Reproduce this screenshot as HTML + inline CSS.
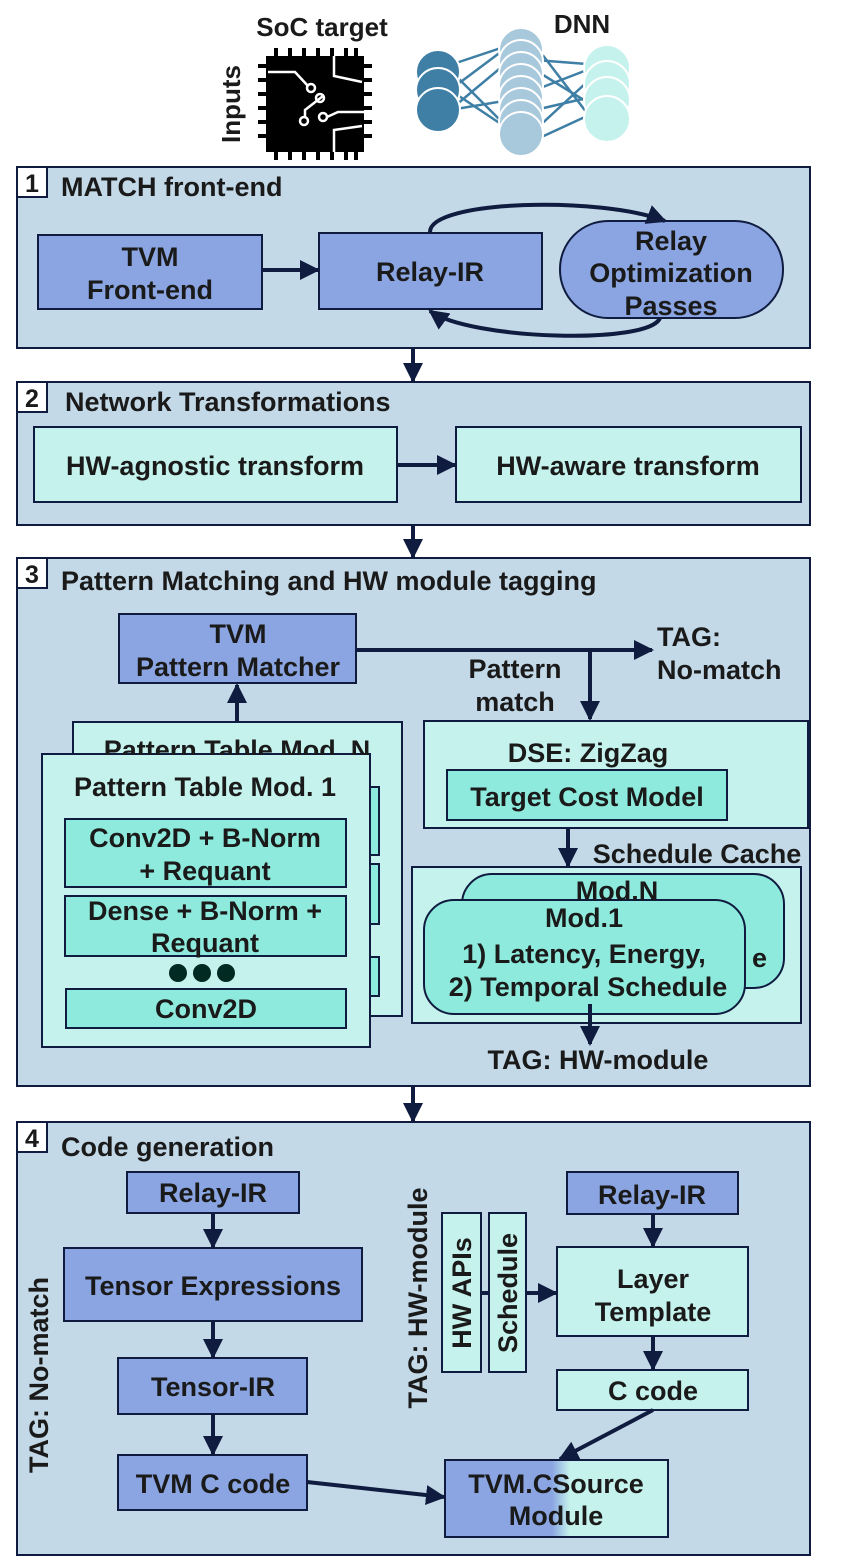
<!DOCTYPE html>
<html><head><meta charset="utf-8"><style>
html,body{margin:0;padding:0;background:#fff}
svg{display:block}
text{font-family:"Liberation Sans",Arial,sans-serif;font-weight:bold;fill:#1a1a1a}
</style></head><body>
<svg width="848" height="1558" viewBox="0 0 848 1558" xmlns="http://www.w3.org/2000/svg">
<defs>
<marker id="ah" viewBox="0 0 10 10" refX="9" refY="5" markerWidth="5" markerHeight="5" orient="auto-start-reverse"><path d="M0,0 L10,5 L0,10 z" fill="#0f1b3f"/></marker>
<linearGradient id="gr" x1="0" x2="1" y1="0" y2="0"><stop offset="0.48" stop-color="#8aa5e2"/><stop offset="0.56" stop-color="#c5f2ec"/></linearGradient>
</defs>
<text x="322" y="36" font-size="26" text-anchor="middle">SoC target</text>
<text x="582" y="33" font-size="26" text-anchor="middle">DNN</text>
<text transform="translate(240,104) rotate(-90)" font-size="26" text-anchor="middle">Inputs</text>
<!-- chip -->
<g fill="#000">
<g stroke="#000" stroke-width="4">
<line x1="276" y1="48" x2="276" y2="160"/><line x1="290" y1="48" x2="290" y2="160"/><line x1="304" y1="48" x2="304" y2="160"/><line x1="318" y1="48" x2="318" y2="160"/><line x1="332" y1="48" x2="332" y2="160"/><line x1="346" y1="48" x2="346" y2="160"/><line x1="356" y1="48" x2="356" y2="160"/>
<line x1="258" y1="66" x2="372" y2="66"/><line x1="258" y1="80" x2="372" y2="80"/><line x1="258" y1="94" x2="372" y2="94"/><line x1="258" y1="108" x2="372" y2="108"/><line x1="258" y1="122" x2="372" y2="122"/><line x1="258" y1="136" x2="372" y2="136"/>
</g>
<rect x="266" y="56" width="98" height="96"/>
</g>
<g stroke="#fff" stroke-width="2.5" fill="none">
<path d="M268,72 L295,72 L308,86"/><circle cx="311" cy="88" r="4"/>
<path d="M334,56 L334,76 L362,82"/><path d="M323,96 L305,110 L305,118"/><circle cx="320" cy="98" r="4"/>
<circle cx="304" cy="121" r="4"/><circle cx="323" cy="117" r="4"/><path d="M327,117 L338,112 L364,112"/><path d="M334,152 L334,130 L362,126"/>
</g>
<!-- DNN -->
<g stroke="#3f7fa6" stroke-width="2.5">
<line x1="450" y1="65" x2="510" y2="45"/><line x1="450" y1="70" x2="510" y2="130"/><line x1="450" y1="90" x2="510" y2="45"/><line x1="450" y1="110" x2="510" y2="60"/><line x1="450" y1="90" x2="510" y2="130"/><line x1="450" y1="110" x2="510" y2="100"/>
<line x1="535" y1="45" x2="600" y2="130"/><line x1="535" y1="60" x2="600" y2="65"/><line x1="535" y1="90" x2="600" y2="65"/><line x1="535" y1="130" x2="600" y2="70"/><line x1="535" y1="110" x2="600" y2="95"/><line x1="535" y1="70" x2="600" y2="110"/><line x1="535" y1="140" x2="600" y2="110"/>
</g>
<g fill="#3f7fa6" stroke="#fff" stroke-width="2"><circle cx="438" cy="72" r="22"/><circle cx="438" cy="90" r="22"/><circle cx="438" cy="110" r="22"/></g>
<g fill="#a8c8dc" stroke="#fff" stroke-width="2"><circle cx="521" cy="50" r="22"/><circle cx="521" cy="62" r="22"/><circle cx="521" cy="74" r="22"/><circle cx="521" cy="86" r="22"/><circle cx="521" cy="98" r="22"/><circle cx="521" cy="110" r="22"/><circle cx="521" cy="122" r="22"/><circle cx="521" cy="134" r="22"/></g>
<g fill="#c5f2ec" stroke="#fff" stroke-width="2"><circle cx="607" cy="68" r="23"/><circle cx="607" cy="84" r="23"/><circle cx="607" cy="100" r="23"/><circle cx="607" cy="119" r="23"/></g>

<g stroke="#0f1b3f" stroke-width="2">
<rect x="17" y="167" width="793" height="181" fill="#c3d9e8"/>
<rect x="17" y="382" width="793" height="143" fill="#c3d9e8"/>
<rect x="17" y="558" width="793" height="528" fill="#c3d9e8"/>
<rect x="17" y="1122" width="793" height="433" fill="#c3d9e8"/>
<rect x="17" y="167" width="30" height="30" fill="#fff"/>
<rect x="17" y="382" width="30" height="30" fill="#fff"/>
<rect x="17" y="558" width="30" height="30" fill="#fff"/>
<rect x="17" y="1122" width="30" height="30" fill="#fff"/>
<rect x="38" y="235" width="224" height="74" fill="#8aa5e2"/>
<rect x="319" y="233" width="223" height="76" fill="#8aa5e2"/>
<rect x="560" y="221" width="223" height="97" rx="48" fill="#8aa5e2"/>
<rect x="34" y="427" width="363" height="75" fill="#c5f2ec"/>
<rect x="456" y="427" width="345" height="75" fill="#c5f2ec"/>
<rect x="119" y="614" width="237" height="69" fill="#8aa5e2"/>
<rect x="73" y="722" width="329" height="294" fill="#c5f2ec"/>
<rect x="360" y="787" width="19" height="68" fill="#8eeadc"/>
<rect x="360" y="864" width="19" height="60" fill="#8eeadc"/>
<rect x="360" y="957" width="19" height="39" fill="#8eeadc"/>
<rect x="42" y="754" width="328" height="293" fill="#c5f2ec"/>
<rect x="65" y="819" width="281" height="68" fill="#8eeadc"/>
<rect x="65" y="896" width="281" height="60" fill="#8eeadc"/>
<rect x="66" y="989" width="280" height="39" fill="#8eeadc"/>
<rect x="424" y="721" width="384" height="107" fill="#c5f2ec"/>
<rect x="447" y="770" width="280" height="50" fill="#8eeadc"/>
<rect x="412" y="867" width="389" height="156" fill="#c5f2ec"/>
<rect x="462" y="874" width="322" height="114" rx="30" fill="#8eeadc"/>
<rect x="424" y="900" width="321" height="114" rx="30" fill="#8eeadc"/>
<rect x="127" y="1172" width="172" height="41" fill="#8aa5e2"/>
<rect x="64" y="1248" width="298" height="73" fill="#8aa5e2"/>
<rect x="118" y="1358" width="189" height="56" fill="#8aa5e2"/>
<rect x="118" y="1455" width="189" height="55" fill="#8aa5e2"/>
<rect x="442" y="1213" width="39" height="159" fill="#c5f2ec"/>
<rect x="489" y="1213" width="37" height="159" fill="#c5f2ec"/>
<rect x="567" y="1172" width="171" height="42" fill="#8aa5e2"/>
<rect x="557" y="1247" width="191" height="89" fill="#c5f2ec"/>
<rect x="557" y="1370" width="191" height="40" fill="#c5f2ec"/>
<rect x="445" y="1460" width="223" height="77" fill="url(#gr)"/>
</g>
<g fill="#002a22"><circle cx="178" cy="973" r="9"/><circle cx="202" cy="973" r="9"/><circle cx="226" cy="973" r="9"/></g>
<g stroke="#0f1b3f" stroke-width="4" fill="none" marker-end="url(#ah)">
<line x1="413" y1="348" x2="413" y2="381"/>
<line x1="413" y1="525" x2="413" y2="557"/>
<line x1="413" y1="1086" x2="413" y2="1121"/>
<line x1="262" y1="270" x2="318" y2="270"/>
<path d="M430,232 C430,200 600,196 665,221"/>
<path d="M660,318 C650,345 470,340 430,311"/>
<line x1="397" y1="465" x2="455" y2="465"/>
<line x1="356" y1="650" x2="652" y2="650"/>
<line x1="590" y1="650" x2="590" y2="719"/>
<line x1="237" y1="722" x2="237" y2="685"/>
<line x1="568" y1="828" x2="568" y2="866"/>
<line x1="590" y1="1004" x2="590" y2="1044"/>
<line x1="213" y1="1213" x2="213" y2="1247"/>
<line x1="213" y1="1321" x2="213" y2="1357"/>
<line x1="213" y1="1414" x2="213" y2="1454"/>
<line x1="307" y1="1482" x2="444" y2="1497"/>
<line x1="526" y1="1293" x2="556" y2="1293"/>
<line x1="653" y1="1214" x2="653" y2="1246"/>
<line x1="653" y1="1336" x2="653" y2="1369"/>
<line x1="653" y1="1410" x2="560" y2="1459"/>
</g>
<line x1="481" y1="1293" x2="489" y2="1293" stroke="#0f1b3f" stroke-width="4"/>
<g font-size="27">
<text x="32" y="192" text-anchor="middle" font-size="25">1</text>
<text x="32" y="407" text-anchor="middle" font-size="25">2</text>
<text x="32" y="583" text-anchor="middle" font-size="25">3</text>
<text x="32" y="1147" text-anchor="middle" font-size="25">4</text>
<text x="61" y="196">MATCH front-end</text>
<text x="65" y="411">Network Transformations</text>
<text x="61" y="590">Pattern Matching and HW module tagging</text>
<text x="61" y="1156">Code generation</text>
<text x="150" y="266" text-anchor="middle">TVM</text>
<text x="150" y="299" text-anchor="middle">Front-end</text>
<text x="430" y="281" text-anchor="middle">Relay-IR</text>
<text x="671" y="250" text-anchor="middle">Relay</text>
<text x="671" y="282" text-anchor="middle">Optimization</text>
<text x="671" y="315" text-anchor="middle">Passes</text>
<text x="215" y="475" text-anchor="middle">HW-agnostic transform</text>
<text x="628" y="475" text-anchor="middle">HW-aware transform</text>
<text x="238" y="643" text-anchor="middle">TVM</text>
<text x="238" y="676" text-anchor="middle">Pattern Matcher</text>
<text x="657" y="646">TAG:</text>
<text x="657" y="679">No-match</text>
<text x="515" y="678" text-anchor="middle">Pattern</text>
<text x="515" y="711" text-anchor="middle">match</text>
<text x="237" y="759" text-anchor="middle">Pattern Table Mod. N</text>
<rect x="43" y="755" width="326" height="10" fill="#c5f2ec"/>
<text x="205" y="796" text-anchor="middle">Pattern Table Mod. 1</text>
<text x="205" y="847" text-anchor="middle">Conv2D + B-Norm</text>
<text x="205" y="880" text-anchor="middle">+ Requant</text>
<text x="205" y="920" text-anchor="middle">Dense + B-Norm +</text>
<text x="205" y="952" text-anchor="middle">Requant</text>
<text x="206" y="1018" text-anchor="middle">Conv2D</text>
<text x="588" y="762" text-anchor="middle">DSE: ZigZag</text>
<text x="587" y="806" text-anchor="middle">Target Cost Model</text>
<text x="697" y="863" text-anchor="middle">Schedule Cache</text>
<text x="617" y="900" text-anchor="middle">Mod.N</text>
<text x="752" y="967">e</text>
<text x="584" y="927" text-anchor="middle">Mod.1</text>
<text x="584" y="963" text-anchor="middle">1) Latency, Energy,</text>
<text x="588" y="996" text-anchor="middle">2) Temporal Schedule</text>
<text x="598" y="1069" text-anchor="middle">TAG: HW-module</text>
<text x="213" y="1202" text-anchor="middle">Relay-IR</text>
<text x="213" y="1295" text-anchor="middle">Tensor Expressions</text>
<text x="213" y="1396" text-anchor="middle">Tensor-IR</text>
<text x="213" y="1493" text-anchor="middle">TVM C code</text>
<text transform="translate(48,1375) rotate(-90)" text-anchor="middle">TAG: No-match</text>
<text transform="translate(427,1298) rotate(-90)" text-anchor="middle">TAG: HW-module</text>
<text transform="translate(471,1293) rotate(-90)" text-anchor="middle">HW APIs</text>
<text transform="translate(517,1293) rotate(-90)" text-anchor="middle">Schedule</text>
<text x="652" y="1204" text-anchor="middle">Relay-IR</text>
<text x="653" y="1288" text-anchor="middle">Layer</text>
<text x="653" y="1321" text-anchor="middle">Template</text>
<text x="653" y="1400" text-anchor="middle">C code</text>
<text x="556" y="1493" text-anchor="middle">TVM.CSource</text>
<text x="556" y="1525" text-anchor="middle">Module</text>
</g>
</svg>
</body></html>
